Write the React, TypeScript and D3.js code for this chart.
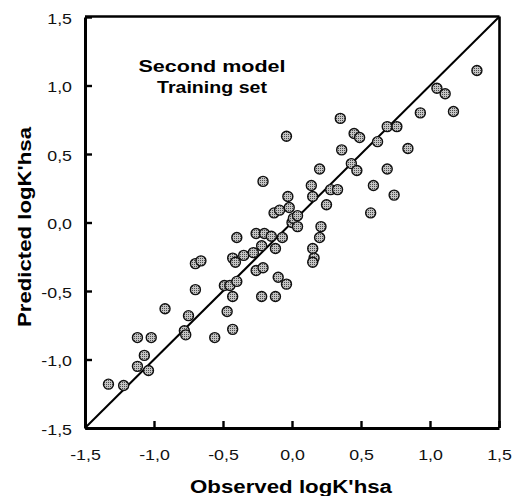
import React, { useEffect, useRef } from 'react';
import * as d3 from 'd3';

// observed vs predicted logK'hsa
const observed = [
  -1.33, -1.22, -1.12, -1.04, -1.07, -1.12, -1.02, -0.92, -0.75, -0.78, -0.77, -0.56, -0.43,
  -0.70, -0.66, -0.70, -0.49, -0.45, -0.40, -0.43, -0.47, -0.43, -0.41, -0.35, -0.28, -0.40,
  -0.26, -0.20, -0.15, -0.22, -0.07, -0.12, -0.26, -0.21, -0.22, -0.12, -0.10, -0.04, -0.13,
  -0.09, -0.02, 0.0, 0.01, 0.04, 0.04, -0.03, 0.15, 0.25, 0.14, 0.28, 0.33, 0.21, 0.2, 0.15,
  0.16, 0.15, -0.21, -0.04, 0.2, 0.35, 0.45, 0.49, 0.36, 0.43, 0.47, 1.34, 1.05, 1.11, 0.93,
  1.17, 0.69, 0.76, 0.62, 0.84, 0.69, 0.59, 0.74, 0.57,
];
const predicted = [
  -1.18, -1.19, -1.05, -1.08, -0.97, -0.84, -0.84, -0.63, -0.68, -0.79, -0.82, -0.84, -0.78,
  -0.3, -0.28, -0.49, -0.46, -0.46, -0.43, -0.54, -0.65, -0.26, -0.29, -0.24, -0.22, -0.11,
  -0.08, -0.08, -0.1, -0.17, -0.11, -0.19, -0.35, -0.33, -0.54, -0.54, -0.4, -0.45, 0.07,
  0.09, 0.11, 0.0, 0.03, 0.05, -0.03, 0.19, 0.19, 0.13, 0.27, 0.24, 0.24, -0.03, -0.11, -0.19,
  -0.26, -0.29, 0.3, 0.63, 0.39, 0.76, 0.65, 0.62, 0.53, 0.43, 0.38, 1.11, 0.98, 0.94, 0.8,
  0.81, 0.7, 0.7, 0.59, 0.54, 0.39, 0.27, 0.2, 0.07,
];
const tickValues = [-1.5, -1.0, -0.5, 0.0, 0.5, 1.0, 1.5];
const titleLines = ['Second model', 'Training set'];
const xTitle = "Observed logK'hsa";
const yTitle = "Predicted logK'hsa";

const W = 514;
const H = 496;
const FONT = '"Liberation Sans", Arial, Helvetica, sans-serif';
const STRETCH = 1.27;

const fmt = (v: number) => v.toFixed(1).replace('.', ',');

export default function App() {
  const svgRef = useRef<SVGSVGElement>(null);

  useEffect(() => {
    const svg = d3.select(svgRef.current);
    svg.selectAll('*').remove();

    const x = d3.scaleLinear().domain([-1.5, 1.5]).range([85, 499]);
    const y = d3.scaleLinear().domain([-1.5, 1.5]).range([428, 17]);

    // stippled marker fill
    const pat = svg
      .append('defs')
      .append('pattern')
      .attr('id', 'stipple')
      .attr('patternUnits', 'userSpaceOnUse')
      .attr('width', 2)
      .attr('height', 2);
    pat.append('rect').attr('width', 2).attr('height', 2).attr('fill', '#c4c4c4');
    pat.append('rect').attr('width', 1).attr('height', 1).attr('fill', '#4a4a4a');

    // frame top / right
    svg
      .append('line')
      .attr('x1', 85)
      .attr('x2', 499.5)
      .attr('y1', 16.5)
      .attr('y2', 16.5)
      .attr('stroke', '#000')
      .attr('stroke-width', 2.6);
    svg
      .append('line')
      .attr('x1', 499.5)
      .attr('x2', 499.5)
      .attr('y1', 16.5)
      .attr('y2', 428)
      .attr('stroke', '#000')
      .attr('stroke-width', 2.6);

    // left axis
    const yAxis = d3
      .axisLeft(y)
      .tickValues(tickValues)
      .tickSize(-7)
      .tickSizeOuter(0)
      .tickPadding(13)
      .tickFormat((d) => fmt(d as number));
    const gy = svg.append('g').attr('transform', 'translate(85,0)').call(yAxis);
    gy.attr('font-family', FONT).attr('font-size', 14);
    gy.select('.domain').attr('stroke-width', 3);
    gy.selectAll('.tick line').attr('stroke-width', 2.4);
    gy.selectAll('.tick text')
      .attr('x', null)
      .attr('dy', null)
      .attr('fill', '#111')
      .attr('text-anchor', 'end')
      .attr('transform', `translate(-13,6) scale(${STRETCH},1)`);

    // bottom axis
    const xAxis = d3
      .axisBottom(x)
      .tickValues(tickValues)
      .tickSize(-7)
      .tickSizeOuter(0)
      .tickFormat((d) => fmt(d as number));
    const gx = svg.append('g').attr('transform', 'translate(0,428)').call(xAxis);
    gx.attr('font-family', FONT).attr('font-size', 14);
    gx.select('.domain').attr('stroke-width', 3);
    gx.selectAll('.tick line').attr('stroke-width', 2.4);
    gx.selectAll('.tick text')
      .attr('y', null)
      .attr('dy', null)
      .attr('fill', '#111')
      .attr('transform', `translate(0,32) scale(${STRETCH},1)`);

    // identity line
    svg
      .append('line')
      .attr('x1', x(-1.5))
      .attr('y1', y(-1.5))
      .attr('x2', x(1.5))
      .attr('y2', y(1.5))
      .attr('stroke', '#000')
      .attr('stroke-width', 2);

    // points
    svg
      .append('g')
      .selectAll('circle')
      .data(observed.map((o, i) => ({ o, p: predicted[i] })))
      .enter()
      .append('circle')
      .attr('cx', (d) => x(d.o))
      .attr('cy', (d) => y(d.p))
      .attr('r', 5)
      .attr('fill', 'url(#stipple)')
      .attr('stroke', '#111')
      .attr('stroke-width', 1.4);

    // inset title
    svg
      .append('g')
      .selectAll('text')
      .data(titleLines)
      .enter()
      .append('text')
      .attr('x', 212)
      .attr('y', (_, i) => 72 + i * 21)
      .attr('text-anchor', 'middle')
      .attr('font-family', FONT)
      .attr('font-weight', 'bold')
      .attr('font-size', 17)
      .attr('textLength', (_, i) => (i === 0 ? 147 : 110))
      .attr('lengthAdjust', 'spacingAndGlyphs')
      .text((d) => d);

    // axis titles
    svg
      .append('text')
      .attr('x', 291)
      .attr('y', 493)
      .attr('text-anchor', 'middle')
      .attr('font-family', FONT)
      .attr('font-weight', 'bold')
      .attr('font-size', 18)
      .attr('textLength', 202)
      .attr('lengthAdjust', 'spacingAndGlyphs')
      .text(xTitle);

    svg
      .append('text')
      .attr('transform', 'translate(31,227) rotate(-90)')
      .attr('text-anchor', 'middle')
      .attr('font-family', FONT)
      .attr('font-weight', 'bold')
      .attr('font-size', 18)
      .attr('textLength', 200)
      .attr('lengthAdjust', 'spacingAndGlyphs')
      .text(yTitle);
  }, []);

  return (
    <svg
      ref={svgRef}
      width={W}
      height={H}
      style={{ position: 'absolute', left: 0, top: 0, background: '#fff' }}
    />
  );
}
